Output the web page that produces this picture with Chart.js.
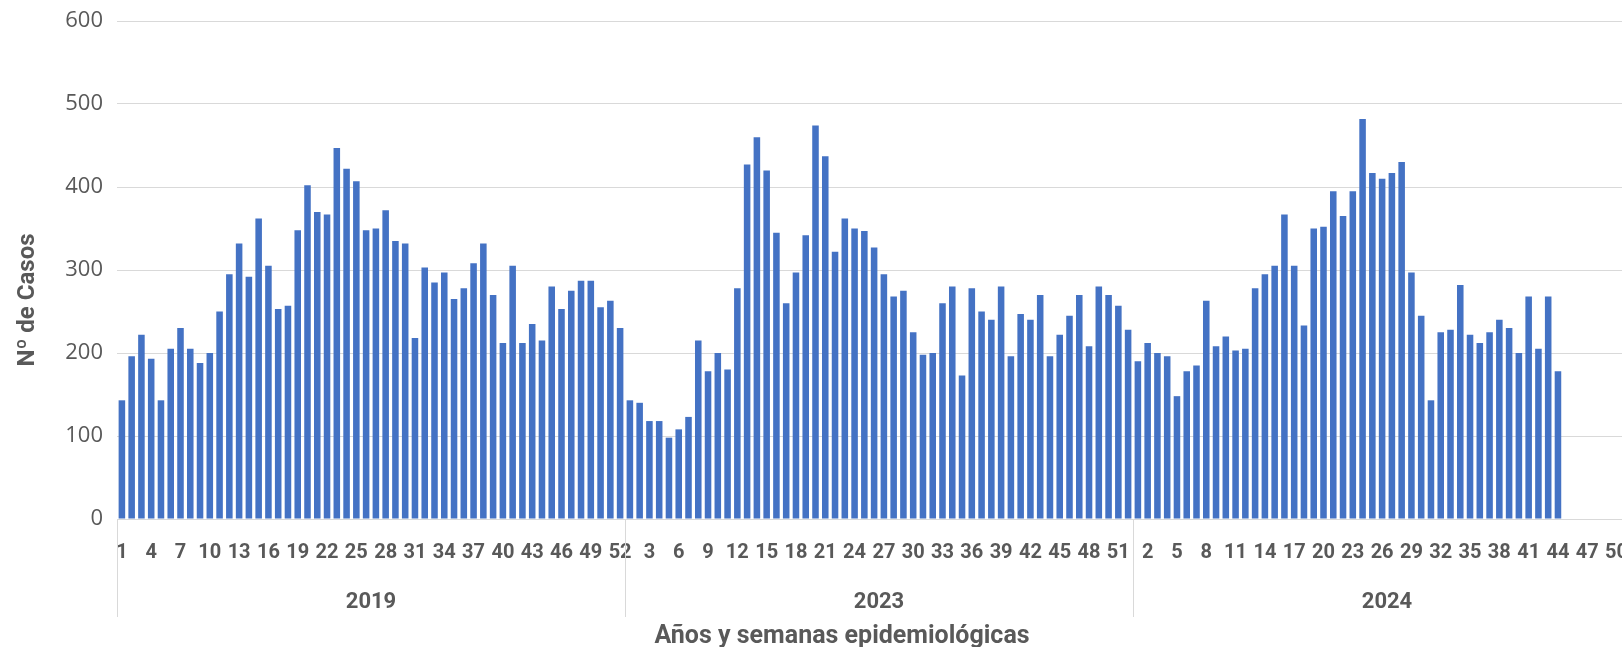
<!DOCTYPE html>
<html>
<head>
<meta charset="utf-8">
<script src="https://cdn.jsdelivr.net/npm/chart.js@4.4.1/dist/chart.umd.min.js"></script>
<style>
  html, body { margin: 0; padding: 0; background: #fff; overflow: hidden; }
  #wrap { width: 1660px; height: 647px; }
</style>
</head>
<body>
<div id="wrap"><canvas id="chart" width="1660" height="647"></canvas></div>
<script>
// --- datos ---
const years = ['2019', '2023', '2024'];
const weeksPerYear = 52;
const cases2019 = [143, 196, 222, 193, 143, 205, 230, 205, 188, 200,
                   250, 295, 332, 292, 362, 305, 253, 257, 348, 402,
                   370, 367, 447, 422, 407, 348, 350, 372, 335, 332,
                   218, 303, 285, 297, 265, 278, 308, 332, 270, 212,
                   305, 212, 235, 215, 280, 253, 275, 287, 287, 255,
                   263, 230];
const cases2023 = [143, 140, 118, 118, 98, 108, 123, 215, 178, 200,
                   180, 278, 427, 460, 420, 345, 260, 297, 342, 474,
                   437, 322, 362, 350, 347, 327, 295, 268, 275, 225,
                   198, 200, 260, 280, 173, 278, 250, 240, 280, 196,
                   247, 240, 270, 196, 222, 245, 270, 208, 280, 270,
                   257, 228];
const cases2024 = [190, 212, 200, 196, 148, 178, 185, 263, 208, 220,
                   203, 205, 278, 295, 305, 367, 305, 233, 350, 352,
                   395, 365, 395, 482, 417, 410, 417, 430, 297, 245,
                   143, 225, 228, 282, 222, 212, 225, 240, 230, 200,
                   268, 205, 268, 178];
const yTicks = [0, 100, 200, 300, 400, 500, 600];

// categorias: semana 1..52 por cada año
const weekLabels = [];
years.forEach(() => {
    for (let w = 1; w <= weeksPerYear; w++) weekLabels.push(String(w));
});
const padYear = arr => arr.concat(new Array(weeksPerYear - arr.length).fill(null));
const values = [].concat(padYear(cases2019), padYear(cases2023), padYear(cases2024));

const textGray = '#595959';
const gridGray = '#d9d9d9';
const boldFont = 'Roboto, "Liberation Sans", sans-serif';

// --- etiquetas de año, separadores y títulos de ejes ---
const groupLabels = {
    id: 'groupLabels',
    afterDraw(chart) {
        const { ctx, scales: { x, y } } = chart;
        const step = x.getPixelForValue(1) - x.getPixelForValue(0);
        ctx.save();
        ctx.strokeStyle = gridGray;
        ctx.lineWidth = 1;
        ctx.fillStyle = textGray;
        ctx.font = 'bold 22px ' + boldFont;
        ctx.textAlign = 'center';
        ctx.textBaseline = 'middle';
        years.forEach((yr, g) => {
            const first = g * weeksPerYear;
            const left = x.getPixelForValue(first) - step / 2;
            const right = x.getPixelForValue(first + weeksPerYear - 1) + step / 2;
            ctx.beginPath();
            ctx.moveTo(Math.round(left) + 0.5, y.bottom);
            ctx.lineTo(Math.round(left) + 0.5, y.bottom + 98);
            ctx.stroke();
            ctx.fillText(yr, (left + right) / 2, 602);
        });
        ctx.font = 'bold 25px ' + boldFont;
        ctx.fillText('Años y semanas epidemiológicas', 842, 637);
        ctx.font = 'bold 24px ' + boldFont;
        ctx.translate(28, 300);
        ctx.rotate(-Math.PI / 2);
        ctx.fillText('Nº de Casos', 0, 0);
        ctx.restore();
    }
};

const ctx = document.getElementById('chart').getContext('2d');
const casesChart = new Chart(ctx, {
    type: 'bar',
    data: {
        labels: weekLabels,
        datasets: [{
            label: 'Nº de Casos',
            data: values,
            backgroundColor: '#4472C4',
            borderWidth: 0,
            barPercentage: 0.67,
            categoryPercentage: 1
        }]
    },
    options: {
        responsive: false,
        animation: false,
        layout: { padding: { top: 21, right: 19, bottom: 0, left: 0 } },
        plugins: {
            legend: { display: false },
            tooltip: { enabled: false }
        },
        scales: {
            x: {
                grid: { display: false, drawTicks: false },
                border: { display: true, color: gridGray },
                ticks: {
                    autoSkip: false,
                    maxRotation: 0,
                    minRotation: 0,
                    padding: 22,
                    color: textGray,
                    font: { family: boldFont, size: 20, weight: 'bold' },
                    callback: (val, i) => (i % 3 === 0 ? weekLabels[i] : '')
                },
                afterFit: s => { s.height = 128; }
            },
            y: {
                min: 0,
                max: 600,
                afterBuildTicks: s => { s.ticks = yTicks.map(v => ({ value: v })); },
                grid: { color: gridGray, lineWidth: 1, drawTicks: false },
                border: { display: false },
                ticks: {
                    padding: 14,
                    color: textGray,
                    font: { family: '"Open Sans", sans-serif', size: 22 }
                },
                afterFit: s => { s.width = 117; s.paddingTop = 0; s.paddingBottom = 0; }
            }
        }
    },
    plugins: [groupLabels]
});
</script>
</body>
</html>
